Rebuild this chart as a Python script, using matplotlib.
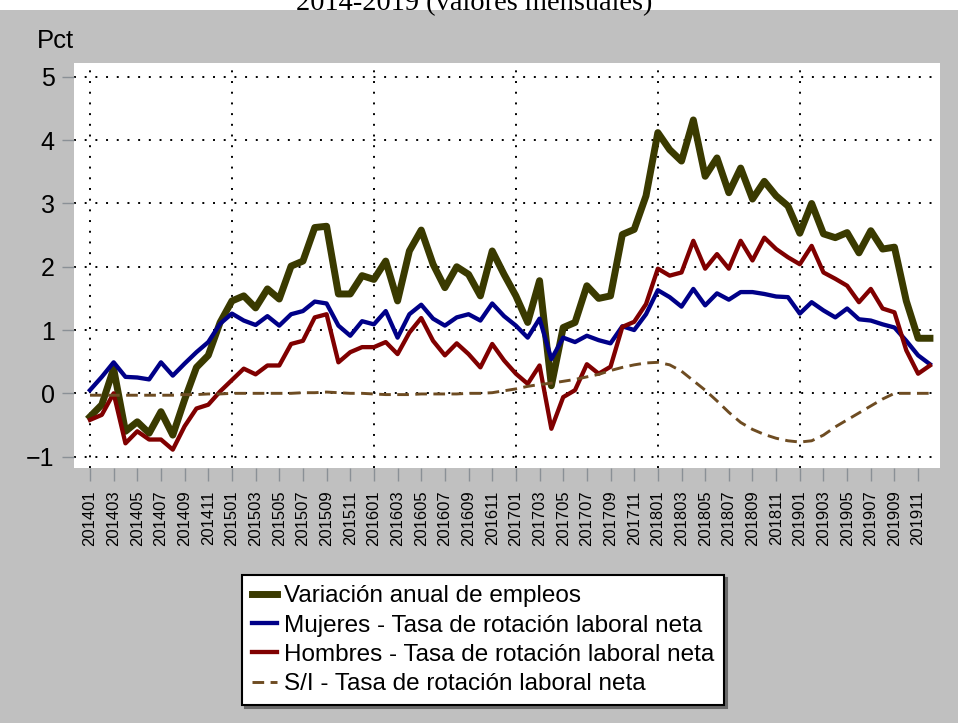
import matplotlib
matplotlib.use("Agg")
import matplotlib.pyplot as plt
import numpy as np

plt.rcParams["font.family"] = ["Liberation Sans", "DejaVu Sans"]

# monthly periods 201401 .. 201912
PERIODS = [f"{y}{m:02d}" for y in range(2014, 2020) for m in range(1, 13)]

EMPLEOS = [-0.37, -0.18, 0.39, -0.60, -0.45, -0.63, -0.29, -0.66, -0.10, 0.41, 0.60, 1.12,
           1.46, 1.54, 1.35, 1.65, 1.49, 2.01, 2.09, 2.62, 2.64, 1.57, 1.57, 1.86,
           1.80, 2.09, 1.46, 2.25, 2.58, 2.04, 1.67, 2.00, 1.88, 1.54, 2.25, 1.88,
           1.54, 1.12, 1.78, 0.12, 1.04, 1.12, 1.70, 1.50, 1.54, 2.51, 2.59, 3.12,
           4.12, 3.85, 3.67, 4.32, 3.43, 3.72, 3.17, 3.56, 3.07, 3.35, 3.12, 2.96,
           2.53, 3.00, 2.52, 2.46, 2.54, 2.22, 2.57, 2.28, 2.31, 1.46, 0.87, 0.87]

MUJERES = [0.05, 0.26, 0.49, 0.26, 0.25, 0.22, 0.49, 0.28, 0.47, 0.65, 0.81, 1.10,
           1.26, 1.15, 1.08, 1.22, 1.07, 1.25, 1.30, 1.45, 1.42, 1.07, 0.91, 1.14,
           1.09, 1.30, 0.88, 1.25, 1.40, 1.18, 1.07, 1.20, 1.25, 1.15, 1.42, 1.22,
           1.07, 0.88, 1.18, 0.54, 0.88, 0.81, 0.91, 0.84, 0.79, 1.06, 1.00, 1.25,
           1.63, 1.52, 1.37, 1.65, 1.39, 1.58, 1.48, 1.60, 1.60, 1.57, 1.53, 1.52,
           1.26, 1.44, 1.31, 1.20, 1.34, 1.17, 1.15, 1.09, 1.04, 0.83, 0.60, 0.46]

HOMBRES = [-0.42, -0.34, 0.00, -0.79, -0.60, -0.73, -0.73, -0.89, -0.52, -0.24, -0.18, 0.03,
           0.21, 0.39, 0.30, 0.44, 0.44, 0.78, 0.83, 1.20, 1.25, 0.49, 0.65, 0.73,
           0.73, 0.81, 0.62, 0.96, 1.19, 0.83, 0.60, 0.79, 0.62, 0.41, 0.78, 0.52,
           0.31, 0.15, 0.44, -0.56, -0.06, 0.05, 0.46, 0.31, 0.42, 1.05, 1.13, 1.41,
           1.97, 1.86, 1.91, 2.41, 1.97, 2.20, 1.97, 2.41, 2.10, 2.46, 2.28, 2.15,
           2.04, 2.33, 1.91, 1.81, 1.70, 1.44, 1.65, 1.34, 1.28, 0.68, 0.31, 0.44]

SIN_INFO = [-0.03, -0.03, -0.03, -0.03, -0.03, -0.03, -0.03, -0.03, -0.02, -0.02, -0.01, -0.01,
            0.00, 0.00, 0.00, 0.00, 0.00, 0.00, 0.01, 0.01, 0.02, 0.01, 0.00, 0.00,
            -0.01, -0.02, -0.02, -0.02, -0.01, -0.01, -0.01, -0.01, 0.00, 0.00, 0.01, 0.04,
            0.07, 0.11, 0.14, 0.16, 0.19, 0.22, 0.26, 0.30, 0.36, 0.41, 0.45, 0.48,
            0.49, 0.45, 0.35, 0.20, 0.05, -0.12, -0.30, -0.46, -0.57, -0.65, -0.71, -0.75,
            -0.77, -0.75, -0.66, -0.53, -0.42, -0.31, -0.20, -0.09, 0.00, 0.00, 0.00, 0.00]

LABELS = ["Variación anual de empleos",
          "Mujeres - Tasa de rotación laboral neta",
          "Hombres - Tasa de rotación laboral neta",
          "S/I - Tasa de rotación laboral neta"]

W, H = 958, 723
fig = plt.figure(figsize=(W / 100, H / 100), dpi=100)
fig.patch.set_facecolor("#c0c0c0")
# white strip at the top where the (cut) title sits
fig.patches.append(plt.Rectangle((0, 1 - 10 / H), 1, 10 / H, transform=fig.transFigure,
                                 facecolor="white", edgecolor="none", zorder=0))
fig.text(474 / W, 1 - 10 / H, "2014-2019 (valores mensuales)", ha="center", va="baseline",
         fontsize=20.5, family="Liberation Serif")

ax = fig.add_axes([74 / W, 1 - 468 / H, (940 - 74) / W, (468 - 63) / H])
ax.set_facecolor("white")
for s in ax.spines.values():
    s.set_visible(False)

x = np.arange(len(PERIODS))
ax.plot(x, EMPLEOS, color="#3a3a00", lw=5.0, label=LABELS[0])
ax.plot(x, MUJERES, color="#000088", lw=3.1, label=LABELS[1])
ax.plot(x, HOMBRES, color="#800000", lw=3.1, label=LABELS[2])
ax.plot(x, SIN_INFO, color="#6e4c22", lw=2.1, dashes=(4, 2.2), label=LABELS[3])

ax.set_xlim(-1.35, 71.85)
ax.set_ylim(-1.18, 5.22)
ax.set_yticks(range(-1, 6))
ax.set_xticks(x[::2])
ax.set_xticklabels(PERIODS[::2], rotation=90, fontsize=12)
ax.tick_params(axis="y", labelsize=18, length=9, width=1, color="#8a9096", pad=5)
ax.tick_params(axis="x", length=9, width=1, color="#8a9096", pad=7)

# dotted grid: every integer and every January
for yv in range(-1, 6):
    ax.axhline(yv, color="black", lw=1.4, ls=(0, (1, 4.5)), zorder=1)
for xv in x[::12]:
    ax.axvline(xv, color="black", lw=1.4, ls=(0, (1, 4.5)), zorder=1)

fig.text(37 / W, 1 - 48 / H, "Pct", fontsize=18.5, va="baseline")

leg = fig.legend(loc="upper left", bbox_to_anchor=(242 / W, 1 - 575 / H),
                 bbox_transform=fig.transFigure, borderaxespad=0, fontsize=17.5,
                 handlelength=1.0, handletextpad=0.3, labelspacing=0.3,
                 borderpad=0.42, frameon=True, fancybox=False,
                 shadow={"color": "#6a6a6a", "alpha": 1})
leg.get_frame().set_edgecolor("black")
leg.get_frame().set_linewidth(1.5)

fig.savefig("out.png", dpi=100, facecolor=fig.get_facecolor())
